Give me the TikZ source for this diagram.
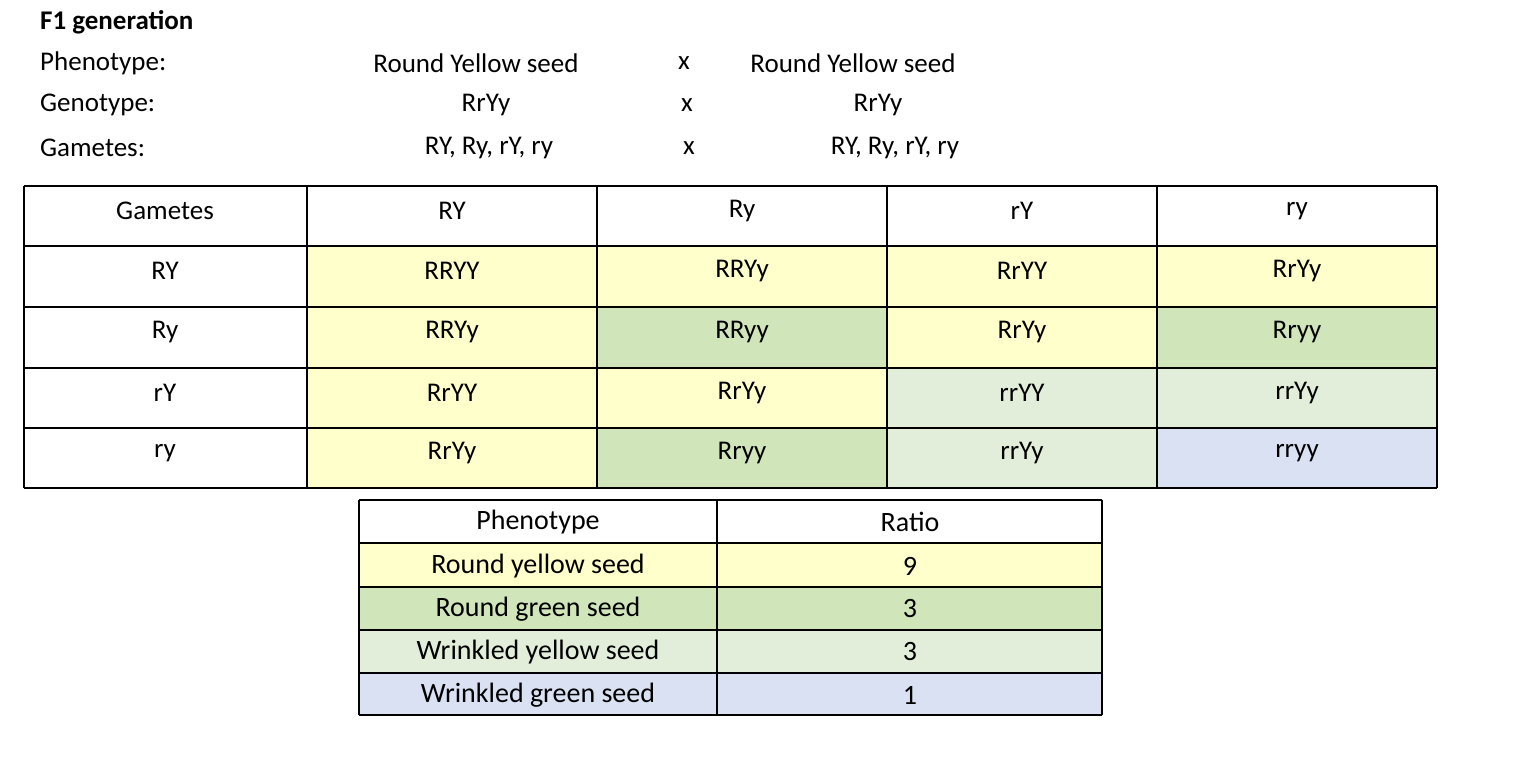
\documentclass[tikz,border=0pt]{standalone}
\usepackage{fontspec}
\setmainfont{Carlito}
\definecolor{cy}{HTML}{FFFFCC}
\definecolor{cg}{HTML}{D0E6BA}
\definecolor{cl}{HTML}{E2EEDA}
\definecolor{cb}{HTML}{D9E1F2}
\begin{document}
\begin{tikzpicture}[x=1pt,y=-1pt,
  txt/.style={font=\fontsize{27}{30}\selectfont,inner sep=0pt},
  big/.style={font=\fontsize{28}{30}\selectfont,inner sep=0pt},
  grid/.style={line width=1.3pt}]
\useasboundingbox (0,0) rectangle (1531,781);
% header
\node[txt,anchor=west,font=\fontsize{27}{30}\selectfont\bfseries] (f1) at (40,22) {F1 generation};
\node[txt,anchor=west] (ph) at (40,63) {Phenotype:};
\node[txt,anchor=west] (ge) at (40,105) {Genotype:};
\node[txt,anchor=west] (ga) at (40,148) {Gametes:};
\node[txt] (p1) at (476,63) {Round Yellow seed};
\node[txt] (px) at (684,63) {x};
\node[txt] (p2) at (853,63) {Round Yellow seed};
\node[txt] (g1) at (486,105) {RrYy};
\node[txt] (gx) at (687,105) {x};
\node[txt] (g2) at (878,105) {RrYy};
\node[txt] (m1) at (489,148) {RY, Ry, rY, ry};
\node[txt] (mx) at (689,148) {x};
\node[txt] (m2) at (895,148) {RY, Ry, rY, ry};
% punnett fills
\def\xs{{24,307,597,887,1157,1437}}
\def\ys{{186,246,307,368,428,488}}
\foreach \r/\c/\col in {1/1/cy,1/2/cy,1/3/cy,1/4/cy,2/1/cy,2/2/cg,2/3/cy,2/4/cg,3/1/cy,3/2/cy,3/3/cl,3/4/cl,4/1/cy,4/2/cg,4/3/cl,4/4/cb}{
  \pgfmathsetmacro\xa{\xs[\c]}\pgfmathsetmacro\xb{\xs[\c+1]}
  \pgfmathsetmacro\ya{\ys[\r]}\pgfmathsetmacro\yb{\ys[\r+1]}
  \fill[\col] (\xa,\ya) rectangle (\xb,\yb);}
\foreach \x in {24,307,597,887,1157,1437} \draw[grid] (\x,186) -- (\x,488);
\foreach \y in {186,246,307,368,428,488} \draw[grid] (24,\y) -- (1437,\y);
\foreach \r/\a/\b/\c/\d/\e in {0/Gametes/RY/Ry/rY/ry,1/RY/RRYY/RRYy/RrYY/RrYy,2/Ry/RRYy/RRyy/RrYy/Rryy,3/rY/RrYY/RrYy/rrYY/rrYy,4/ry/RrYy/Rryy/rrYy/rryy}{
  \pgfmathsetmacro\yc{\ys[\r]+25}
  \node[txt] (c\r a) at (165,\yc) {\a};
  \node[txt] (c\r b) at (452,\yc) {\b};
  \node[txt] (c\r c) at (742,\yc) {\c};
  \node[txt] (c\r d) at (1022,\yc) {\d};
  \node[txt] (c\r e) at (1297,\yc) {\e};}
% ratio table
\fill[cy] (359,543) rectangle (1102,587);
\fill[cg] (359,587) rectangle (1102,630);
\fill[cl] (359,630) rectangle (1102,673);
\fill[cb] (359,673) rectangle (1102,715);
\foreach \x in {359,717,1102} \draw[grid] (\x,500) -- (\x,715);
\foreach \y in {500,543,587,630,673,715} \draw[grid] (359,\y) -- (1102,\y);
\foreach \y/\a/\b in {522/Phenotype/Ratio,566/Round yellow seed/9,609/Round green seed/3,652/Wrinkled yellow seed/3,695/Wrinkled green seed/1}{
  \node[big] (r\y a) at (538,\y) {\a};
  \node[big] (r\y b) at (910,\y) {\b};}
\end{tikzpicture}
\end{document}
